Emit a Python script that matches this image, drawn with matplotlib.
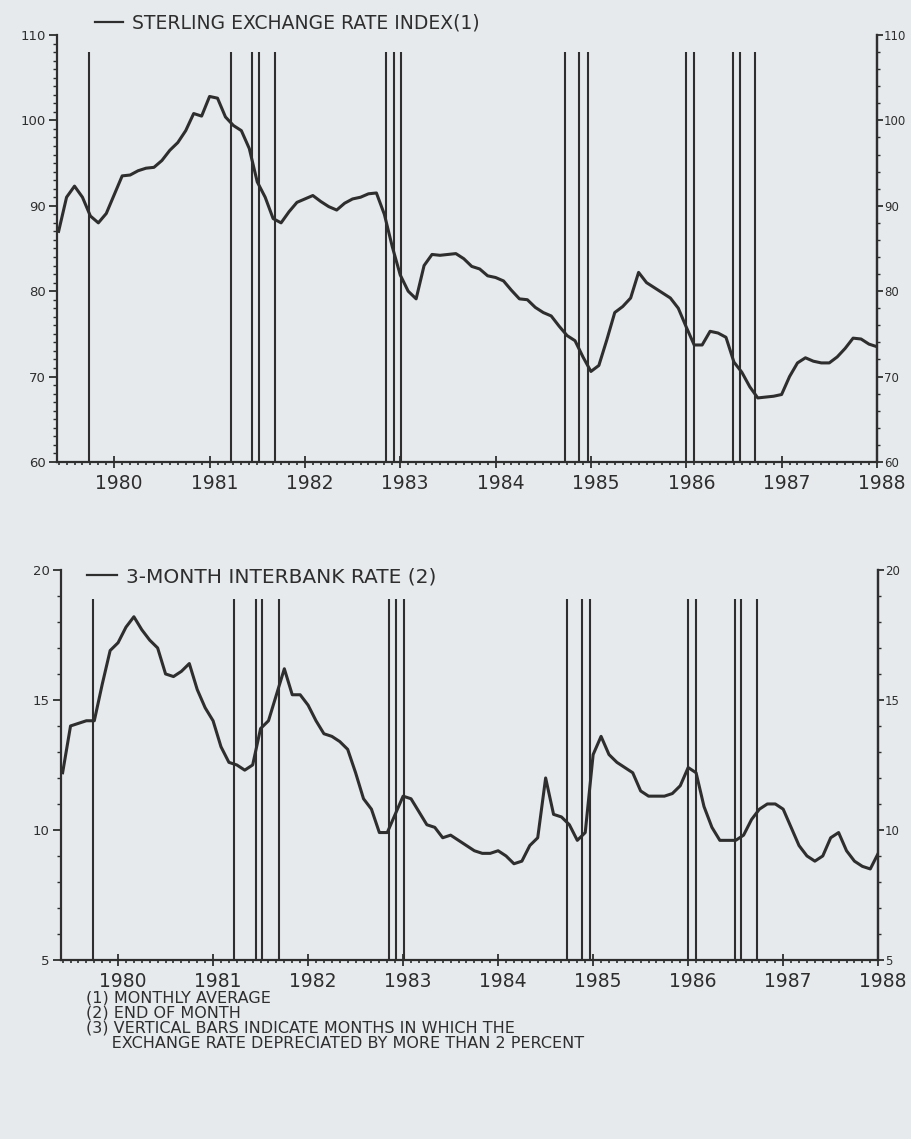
import matplotlib
matplotlib.use("Agg")
import matplotlib.pyplot as plt
from matplotlib.ticker import MultipleLocator, FixedLocator
import matplotlib.transforms as mtransforms
import numpy as np

# Monthly observations, June 1979 .. January 1988
start_year = 1979
start_month = 6
sterling_index = [
    87.0, 91.0, 92.3, 91.0, 88.8, 88.0, 89.1, 91.3, 93.5, 93.6, 94.1, 94.4,
    94.5, 95.3, 96.5, 97.4, 98.8, 100.8, 100.5, 102.8, 102.6, 100.4, 99.4, 98.8,
    96.7, 92.8, 91.0, 88.5, 88.0, 89.3, 90.4, 90.8, 91.2, 90.5, 89.9, 89.5,
    90.3, 90.8, 91.0, 91.4, 91.5, 89.0, 85.2, 81.9, 80.0, 79.1, 83.0, 84.3,
    84.2, 84.3, 84.4, 83.8, 82.9, 82.6, 81.8, 81.6, 81.2, 80.1, 79.1, 79.0,
    78.1, 77.5, 77.1, 75.9, 74.8, 74.2, 72.3, 70.6, 71.3, 74.3, 77.5, 78.2,
    79.2, 82.2, 81.0, 80.4, 79.8, 79.2, 78.0, 75.8, 73.7, 73.7, 75.3, 75.1,
    74.6, 71.7, 70.5, 68.8, 67.5, 67.6, 67.7, 67.9, 70.0, 71.6, 72.2, 71.8,
    71.6, 71.6, 72.3, 73.3, 74.5, 74.4, 73.8, 73.5,
]
interbank_rate = [
    12.2, 14.0, 14.1, 14.2, 14.2, 15.6, 16.9, 17.2, 17.8, 18.2, 17.7, 17.3,
    17.0, 16.0, 15.9, 16.1, 16.4, 15.4, 14.7, 14.2, 13.2, 12.6, 12.5, 12.3,
    12.5, 13.9, 14.2, 15.2, 16.2, 15.2, 15.2, 14.8, 14.2, 13.7, 13.6, 13.4,
    13.1, 12.2, 11.2, 10.8, 9.9, 9.9, 10.6, 11.3, 11.2, 10.7, 10.2, 10.1,
    9.7, 9.8, 9.6, 9.4, 9.2, 9.1, 9.1, 9.2, 9.0, 8.7, 8.8, 9.4,
    9.7, 12.0, 10.6, 10.5, 10.2, 9.6, 9.9, 12.9, 13.6, 12.9, 12.6, 12.4,
    12.2, 11.5, 11.3, 11.3, 11.3, 11.4, 11.7, 12.4, 12.2, 10.9, 10.1, 9.6,
    9.6, 9.6, 9.8, 10.4, 10.8, 11.0, 11.0, 10.8, 10.1, 9.4, 9.0, 8.8,
    9.0, 9.7, 9.9, 9.2, 8.8, 8.6, 8.5, 9.1,
]
# months in which the exchange rate depreciated by more than 2 percent (decimal years)
depreciation_bars = [
    1979.74, 1981.22, 1981.45, 1981.52, 1981.69, 1982.85, 1982.93, 1983.01,
    1984.73, 1984.88, 1984.97, 1986.00, 1986.08, 1986.49, 1986.56, 1986.72,
]
year_ticks = [1980, 1981, 1982, 1983, 1984, 1985, 1986, 1987, 1988]
top_label = "STERLING EXCHANGE RATE INDEX(1)"
bottom_label = "3-MONTH INTERBANK RATE (2)"
footnotes = [
    "(1) MONTHLY AVERAGE",
    "(2) END OF MONTH",
    "(3) VERTICAL BARS INDICATE MONTHS IN WHICH THE",
    "     EXCHANGE RATE DEPRECIATED BY MORE THAN 2 PERCENT",
]

t = start_year + (start_month - 1) / 12 + np.arange(len(sterling_index)) / 12

BG = "#e6eaec"
INK = "#2e2e2e"

fig = plt.figure(figsize=(9.11, 11.39), dpi=100, facecolor=BG)
label_shift = mtransforms.ScaledTranslation(5 / 100, 0, fig.dpi_scale_trans)

def style_axes(ax, ylim, major, left_minor, right_minor):
    ax.set_facecolor(BG)
    ax.set_xlim(1979.40, 1988.0)
    ax.set_ylim(*ylim)
    for s in ("left", "bottom", "right"):
        ax.spines[s].set_color(INK)
        ax.spines[s].set_linewidth(1.6)
    ax.spines["top"].set_visible(False)
    ax.xaxis.set_major_locator(FixedLocator(year_ticks))
    ax.set_xticklabels([str(y) for y in year_ticks])
    ax.xaxis.set_minor_locator(MultipleLocator(1 / 12))
    ax.tick_params(axis="x", which="major", direction="inout", length=8, width=1.3,
                   colors=INK, labelsize=13.5, pad=5)
    ax.tick_params(axis="x", which="minor", direction="out", length=2.5, width=1.2, colors=INK)
    for lab in ax.get_xticklabels():
        lab.set_transform(lab.get_transform() + label_shift)
    ax.yaxis.set_major_locator(MultipleLocator(major))
    ax.yaxis.set_minor_locator(MultipleLocator(left_minor))
    ax.tick_params(axis="y", which="major", direction="out", length=6, width=1.3,
                   colors=INK, labelsize=9.5, pad=2)
    ax.tick_params(axis="y", which="minor", direction="out", length=3, width=1.0, colors=INK)
    axr = ax.twinx()
    axr.set_ylim(*ylim)
    axr.spines["top"].set_visible(False)
    axr.spines["left"].set_visible(False)
    axr.spines["bottom"].set_visible(False)
    axr.spines["right"].set_color(INK)
    axr.spines["right"].set_linewidth(1.6)
    axr.yaxis.set_major_locator(MultipleLocator(major))
    axr.yaxis.set_minor_locator(MultipleLocator(right_minor))
    axr.tick_params(axis="y", which="major", direction="out", length=4, width=1.3,
                    colors=INK, labelsize=8.5, pad=1)
    axr.tick_params(axis="y", which="minor", direction="out", length=2.5, width=1.0, colors=INK)
    return axr

def add_key(ax, line, label, x_px, y_px, size):
    leg = ax.legend([line], [label], loc="center left",
                    bbox_to_anchor=(x_px / 911, 1 - y_px / 1139),
                    bbox_transform=fig.transFigure, frameon=False,
                    borderpad=0, borderaxespad=0, handlelength=1.5,
                    handletextpad=0.45, prop={"size": size})
    for txt in leg.get_texts():
        txt.set_color(INK)
    for h in leg.get_lines():
        h.set_linewidth(1.6)
    return leg

# top panel
ax1 = fig.add_axes([0.0626, 0.5944, 0.900, 0.3749])
style_axes(ax1, (60, 110), 10, 1, 2)
for b in depreciation_bars:
    ax1.plot([b, b], [60, 108], color=INK, lw=1.5, solid_capstyle="butt")
l1, = ax1.plot(t, sterling_index, color=INK, lw=2.2)
add_key(ax1, l1, top_label, 95, 23, 13.5)

# bottom panel
ax2 = fig.add_axes([0.067, 0.1572, 0.897, 0.3424])
style_axes(ax2, (5, 20), 5, 1, 1)
for b in depreciation_bars:
    ax2.plot([b, b], [5, 18.9], color=INK, lw=1.5, solid_capstyle="butt")
l2, = ax2.plot(t, interbank_rate, color=INK, lw=2.2)
add_key(ax2, l2, bottom_label, 87, 577, 14.5)

for k, line in enumerate(footnotes):
    fig.text(86 / 911, 1 - (998 + 15 * k) / 1139, line, fontsize=11.5, color=INK,
             va="center", ha="left")

fig.savefig("out.png", dpi=100, facecolor=BG)
